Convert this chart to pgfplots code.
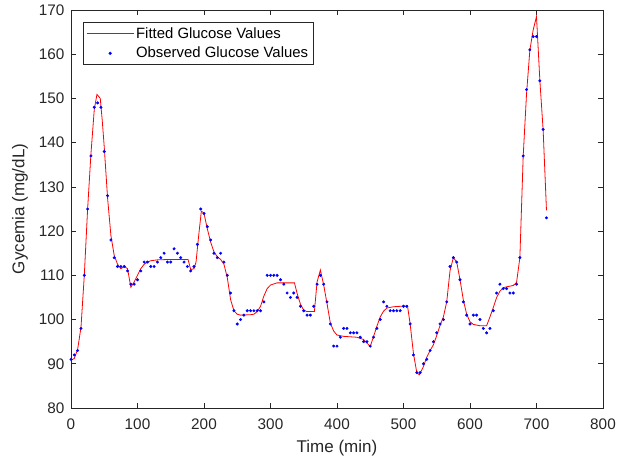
\documentclass[border=0pt]{standalone}
\usepackage{pgfplots}
\pgfplotsset{compat=1.18}
\usepackage{fontspec}
\setmainfont{Liberation Sans}
\definecolor{axgray}{rgb}{0.15,0.15,0.15}
\pgfplotsset{
  mylegline/.style={legend image code/.code={\draw[##1] (0pt,0pt) -- (47pt,0pt);}},
  mylegmark/.style={legend image code/.code={\draw[mark repeat=2,mark phase=2,##1] plot coordinates {(0pt,0pt)(23.5pt,0pt)(47pt,0pt)};}},
}
\begin{document}
\begin{tikzpicture}
\path[use as bounding box] (-71pt,-54pt) rectangle (565pt,408pt);
\begin{axis}[
  at={(0pt,0pt)}, anchor=south west,
  scale only axis, width=532pt, height=398pt,
  xmin=0, xmax=800, ymin=80, ymax=170,
  xtick={0,100,...,800}, ytick={80,90,...,170},
  tick align=inside, major tick length=5pt,
  axis line style={axgray, line width=0.6pt},
  every tick/.style={axgray, line width=0.6pt},
  tick label style={font=\fontsize{15.3}{15.3}\selectfont, text=axgray},
  xticklabel style={yshift=-7pt},
  yticklabel style={xshift=-3pt},
  /pgf/number format/assume math mode=true,
  every axis y label/.style={at={(axis description cs:-0.0959,0.5)},rotate=90,anchor=center},
  every axis x label/.style={at={(axis description cs:0.5,-0.1015)},anchor=center},
  label style={font=\fontsize{17}{17}\selectfont, text=axgray},
  xlabel={Time (min)}, ylabel={Gycemia (mg/dL)},
  legend cell align=left,
  legend style={at={(0.0226,0.97)}, anchor=north west, draw=axgray, line width=0.6pt,
    font=\fontsize{14.9}{14.9}\selectfont, inner xsep=3pt, inner ysep=3.3pt, row sep=3.3pt,
    /tikz/every even column/.append style={column sep=6.5pt}},
]
\addplot[red, line width=0.8pt, mylegline] coordinates {
(0,90.8)(5,91.2)(10,93.3)(15,98.2)(20,110)(25,125)(30,137.5)(35,147.5)(39,150.9)(42,150.4)(44,150)
(47,145)(50,139)(55,127.5)(60,119)(65,114.5)(70,112.5)(75,111.5)(80,112)(85,111.5)(88,109)(90,107.3)
(95,108.5)(100,110)(105,111.5)(110,112.5)(115,113)(120,113.3)(130,113.5)(150,113.6)(176,113.6)
(180,111.3)(185,111.5)(188,113)(192,119)(196,124.5)(198,124.3)(200,124)(205,120.5)(210,117.5)
(215,115.3)(220,114.2)(225,113.6)(230,112.5)(235,109.5)(240,104.5)(245,102)(250,101.2)(255,101)
(270,101.1)(275,101.2)(280,101.8)(285,103)(290,105.3)(295,107)(300,107.8)(310,108.3)(336,108.3)
(340,105.9)(345,103.5)(350,102.1)(355,101.8)(366,101.8)(370,108.5)(375,111.2)(380,107.8)(385,103.6)
(390,99.2)(395,97.4)(400,96.5)(410,96.2)(430,96)(440,95.5)(445,94.7)(450,93.9)(455,96.2)(460,98.5)
(465,100.6)(470,101.9)(475,102.6)(485,102.9)(506,103.1)(510,99)(515,92.3)(520,88)(524,87.5)
(530,89.4)(535,91.5)(540,93)(545,94.3)(550,96.4)(555,98.7)(560,100.6)(565,104)(570,111.1)(575,114)
(580,113)(585,109)(590,104.4)(595,101.2)(600,99.5)(605,98.9)(615,98.6)(625,98.6)(630,100.6)
(635,102.7)(640,105)(645,106.4)(650,107.2)(655,107.4)(665,107.7)(670,108.4)(675,114)(680,137)
(685,151)(690,160.9)(695,165.5)(700,168.5)(705,154.2)(710,142.8)(715,124.7)
};
\addlegendentry{Fitted Glucose Values}
\addplot[only marks, mark=*, mark size=1.3pt, blue, mark options={draw=blue, fill=blue}, mylegmark] coordinates {
(0,91)(5,92)(10,93)(15,98)(20,110)(25,125)(30,137)(35,148)(40,149)(45,148)(50,138)(55,128)
(60,118)(65,114)(70,112)(75,112)(80,112)(85,111)(90,108)(95,108)(100,109)(105,111)(110,113)
(115,113)(120,112)(125,112)(130,113)(135,114)(140,115)(145,113)(150,113)(155,116)(160,115)
(165,114)(170,113)(175,112)(180,111)(185,112)(190,117)(195,125)(200,124)(205,121)(210,118)
(215,115)(220,114)(225,115)(230,113)(235,110)(240,106)(245,102)(250,99)(255,100)(260,101)
(265,102)(270,102)(275,102)(280,102)(285,102)(290,104)(295,110)(300,110)(305,110)(310,110)
(315,109)(320,108)(325,106)(330,105)(335,106)(340,105)(345,103)(350,102)(355,101)(360,101)
(365,103)(370,108)(375,110)(380,108)(385,104)(390,99)(395,94)(400,94)(405,96)(410,98)(415,98)
(420,97)(425,97)(430,97)(435,96)(440,95)(445,95)(450,94)(455,96)(460,98)(465,100)(470,104)
(475,103)(480,102)(485,102)(490,102)(495,102)(500,103)(505,103)(510,99)(515,92)(520,88)(525,88)
(530,90)(535,91)(540,93)(545,95)(550,97)(555,99)(560,100)(565,104)(570,112)(575,114)(580,113)
(585,109)(590,104)(595,101)(600,99)(605,101)(610,101)(615,100)(620,98)(625,97)(630,98)(635,102)
(640,106)(645,108)(650,107)(655,107)(660,106)(665,106)(670,108)(675,114)(680,137)(685,152)
(690,161)(695,164)(700,164)(705,154)(710,143)(715,123)
};
\addlegendentry{Observed Glucose Values\hspace{3.6pt}}
\end{axis}
\end{tikzpicture}
\end{document}
